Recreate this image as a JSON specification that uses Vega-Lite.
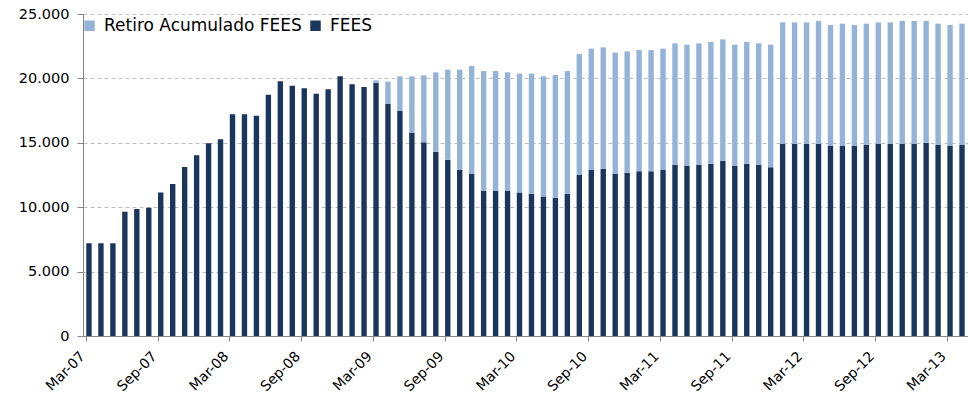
{
  "$schema": "https://vega.github.io/schema/vega-lite/v6.json",
  "width": 885,
  "height": 322,
  "autosize": {"type": "none"},
  "padding": {"left": 83, "top": 14, "right": 0, "bottom": 64},
  "background": "white",
  "config": {
    "view": {"stroke": null},
    "font": "DejaVu Sans"
  },
  "data": {"values": [
    {"m": "Mar-07", "FEES": 7200, "Retiro Acumulado FEES": 0},
    {"m": "Apr-07", "FEES": 7200, "Retiro Acumulado FEES": 0},
    {"m": "May-07", "FEES": 7200, "Retiro Acumulado FEES": 0},
    {"m": "Jun-07", "FEES": 9650, "Retiro Acumulado FEES": 0},
    {"m": "Jul-07", "FEES": 9860, "Retiro Acumulado FEES": 0},
    {"m": "Aug-07", "FEES": 9960, "Retiro Acumulado FEES": 0},
    {"m": "Sep-07", "FEES": 11150, "Retiro Acumulado FEES": 0},
    {"m": "Oct-07", "FEES": 11800, "Retiro Acumulado FEES": 0},
    {"m": "Nov-07", "FEES": 13120, "Retiro Acumulado FEES": 0},
    {"m": "Dec-07", "FEES": 14030, "Retiro Acumulado FEES": 0},
    {"m": "Jan-08", "FEES": 14960, "Retiro Acumulado FEES": 0},
    {"m": "Feb-08", "FEES": 15270, "Retiro Acumulado FEES": 0},
    {"m": "Mar-08", "FEES": 17210, "Retiro Acumulado FEES": 0},
    {"m": "Apr-08", "FEES": 17210, "Retiro Acumulado FEES": 0},
    {"m": "May-08", "FEES": 17100, "Retiro Acumulado FEES": 0},
    {"m": "Jun-08", "FEES": 18740, "Retiro Acumulado FEES": 0},
    {"m": "Jul-08", "FEES": 19770, "Retiro Acumulado FEES": 0},
    {"m": "Aug-08", "FEES": 19430, "Retiro Acumulado FEES": 0},
    {"m": "Sep-08", "FEES": 19230, "Retiro Acumulado FEES": 0},
    {"m": "Oct-08", "FEES": 18810, "Retiro Acumulado FEES": 0},
    {"m": "Nov-08", "FEES": 19150, "Retiro Acumulado FEES": 0},
    {"m": "Dec-08", "FEES": 20160, "Retiro Acumulado FEES": 0},
    {"m": "Jan-09", "FEES": 19540, "Retiro Acumulado FEES": 0},
    {"m": "Feb-09", "FEES": 19330, "Retiro Acumulado FEES": 0},
    {"m": "Mar-09", "FEES": 19640, "Retiro Acumulado FEES": 210},
    {"m": "Apr-09", "FEES": 18010, "Retiro Acumulado FEES": 1740},
    {"m": "May-09", "FEES": 17470, "Retiro Acumulado FEES": 2690},
    {"m": "Jun-09", "FEES": 15760, "Retiro Acumulado FEES": 4400},
    {"m": "Jul-09", "FEES": 15040, "Retiro Acumulado FEES": 5200},
    {"m": "Aug-09", "FEES": 14310, "Retiro Acumulado FEES": 6160},
    {"m": "Sep-09", "FEES": 13690, "Retiro Acumulado FEES": 6990},
    {"m": "Oct-09", "FEES": 12890, "Retiro Acumulado FEES": 7790},
    {"m": "Nov-09", "FEES": 12580, "Retiro Acumulado FEES": 8380},
    {"m": "Dec-09", "FEES": 11260, "Retiro Acumulado FEES": 9310},
    {"m": "Jan-10", "FEES": 11260, "Retiro Acumulado FEES": 9310},
    {"m": "Feb-10", "FEES": 11260, "Retiro Acumulado FEES": 9210},
    {"m": "Mar-10", "FEES": 11150, "Retiro Acumulado FEES": 9220},
    {"m": "Apr-10", "FEES": 11050, "Retiro Acumulado FEES": 9320},
    {"m": "May-10", "FEES": 10840, "Retiro Acumulado FEES": 9320},
    {"m": "Jun-10", "FEES": 10740, "Retiro Acumulado FEES": 9520},
    {"m": "Jul-10", "FEES": 11050, "Retiro Acumulado FEES": 9520},
    {"m": "Aug-10", "FEES": 12500, "Retiro Acumulado FEES": 9390},
    {"m": "Sep-10", "FEES": 12890, "Retiro Acumulado FEES": 9420},
    {"m": "Oct-10", "FEES": 12970, "Retiro Acumulado FEES": 9440},
    {"m": "Nov-10", "FEES": 12580, "Retiro Acumulado FEES": 9420},
    {"m": "Dec-10", "FEES": 12680, "Retiro Acumulado FEES": 9420},
    {"m": "Jan-11", "FEES": 12790, "Retiro Acumulado FEES": 9410},
    {"m": "Feb-11", "FEES": 12790, "Retiro Acumulado FEES": 9410},
    {"m": "Mar-11", "FEES": 12890, "Retiro Acumulado FEES": 9420},
    {"m": "Apr-11", "FEES": 13280, "Retiro Acumulado FEES": 9440},
    {"m": "May-11", "FEES": 13200, "Retiro Acumulado FEES": 9420},
    {"m": "Jun-11", "FEES": 13280, "Retiro Acumulado FEES": 9440},
    {"m": "Jul-11", "FEES": 13380, "Retiro Acumulado FEES": 9450},
    {"m": "Aug-11", "FEES": 13590, "Retiro Acumulado FEES": 9440},
    {"m": "Sep-11", "FEES": 13200, "Retiro Acumulado FEES": 9420},
    {"m": "Oct-11", "FEES": 13380, "Retiro Acumulado FEES": 9450},
    {"m": "Nov-11", "FEES": 13280, "Retiro Acumulado FEES": 9440},
    {"m": "Dec-11", "FEES": 13100, "Retiro Acumulado FEES": 9520},
    {"m": "Jan-12", "FEES": 14910, "Retiro Acumulado FEES": 9440},
    {"m": "Feb-12", "FEES": 14910, "Retiro Acumulado FEES": 9440},
    {"m": "Mar-12", "FEES": 14910, "Retiro Acumulado FEES": 9440},
    {"m": "Apr-12", "FEES": 14910, "Retiro Acumulado FEES": 9550},
    {"m": "May-12", "FEES": 14750, "Retiro Acumulado FEES": 9400},
    {"m": "Jun-12", "FEES": 14750, "Retiro Acumulado FEES": 9500},
    {"m": "Jul-12", "FEES": 14750, "Retiro Acumulado FEES": 9400},
    {"m": "Aug-12", "FEES": 14830, "Retiro Acumulado FEES": 9420},
    {"m": "Sep-12", "FEES": 14910, "Retiro Acumulado FEES": 9440},
    {"m": "Oct-12", "FEES": 14910, "Retiro Acumulado FEES": 9440},
    {"m": "Nov-12", "FEES": 14910, "Retiro Acumulado FEES": 9550},
    {"m": "Dec-12", "FEES": 14910, "Retiro Acumulado FEES": 9550},
    {"m": "Jan-13", "FEES": 15010, "Retiro Acumulado FEES": 9450},
    {"m": "Feb-13", "FEES": 14830, "Retiro Acumulado FEES": 9420},
    {"m": "Mar-13", "FEES": 14750, "Retiro Acumulado FEES": 9400},
    {"m": "Apr-13", "FEES": 14830, "Retiro Acumulado FEES": 9420}
  ]},
  "transform": [{"fold": ["FEES", "Retiro Acumulado FEES"], "as": ["serie", "valor"]}],
  "mark": {"type": "bar"},
  "encoding": {
    "x": {
      "field": "m", "type": "ordinal", "sort": null,
      "scale": {"paddingInner": 0.55, "paddingOuter": 0.275},
      "axis": {
        "title": null,
        "values": ["Mar-07","Sep-07","Mar-08","Sep-08","Mar-09","Sep-09","Mar-10","Sep-10","Mar-11","Sep-11","Mar-12","Sep-12","Mar-13"],
        "bandPosition": 0,
        "labelAngle": -45,
        "labelAlign": "right",
        "labelBaseline": "top",
        "labelOffset": -11,
        "labelFontSize": 14,
        "labelColor": "#000000",
        "labelPadding": 8,
        "domainColor": "#868686",
        "tickColor": "#868686",
        "tickSize": 5,
        "grid": false
      }
    },
    "y": {
      "field": "valor", "type": "quantitative", "stack": "zero",
      "scale": {"domain": [0, 25000], "nice": false},
      "axis": {
        "title": null,
        "values": [0, 5000, 10000, 15000, 20000, 25000],
        "labelExpr": "replace(format(datum.value, ',.0f'), ',', '.')",
        "labelFontSize": 14.5,
        "labelColor": "#000000",
        "labelPadding": 8,
        "domainColor": "#868686",
        "tickColor": "#868686",
        "tickSize": 6,
        "grid": true,
        "gridColor": "#BFBFBF",
        "gridDash": [4, 3]
      }
    },
    "color": {
      "field": "serie", "type": "nominal",
      "scale": {"domain": ["Retiro Acumulado FEES", "FEES"], "range": ["#95B3D7", "#1A365D"]},
      "legend": {
        "title": null,
        "orient": "none",
        "legendX": -2,
        "legendY": 3,
        "direction": "horizontal",
        "symbolType": "square",
        "symbolSize": 110,
        "symbolStrokeWidth": 0,
        "labelFontSize": 17,
        "labelLimit": 0,
        "labelColor": "#000000",
        "columnPadding": 5,
        "labelOffset": 6
      }
    },
    "order": {"field": "serie", "sort": "ascending"}
  }
}
